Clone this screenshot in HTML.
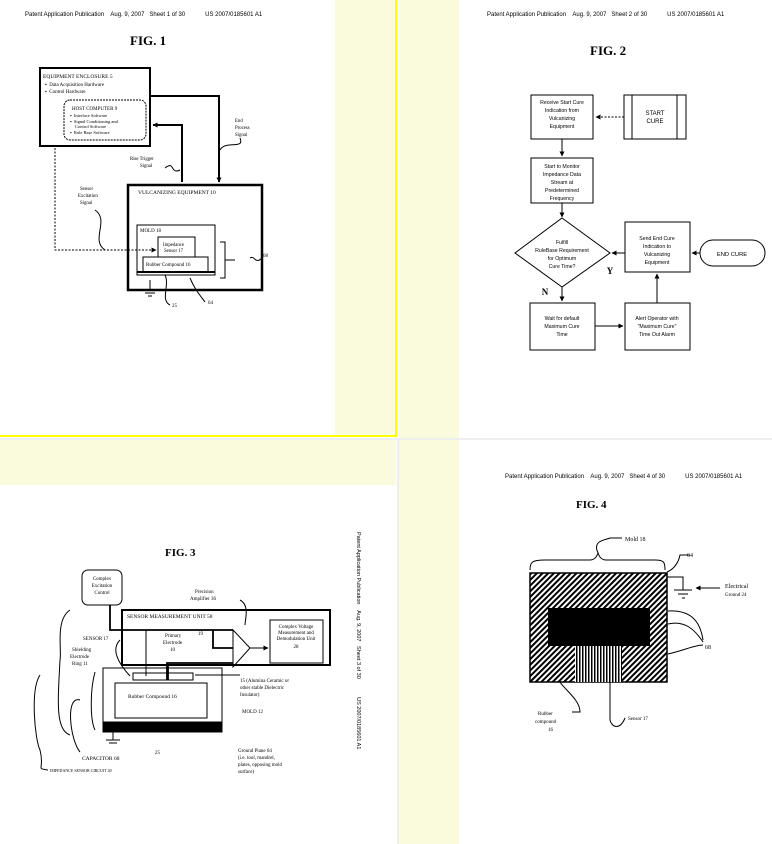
<!DOCTYPE html>
<html><head><meta charset="utf-8"><style>
html,body{margin:0;padding:0;width:772px;height:844px;overflow:hidden;background:#fff}
svg{display:block}
text{font-family:"Liberation Serif",serif;fill:#000;white-space:pre}
.s{font-family:"Liberation Sans",sans-serif}
.f2 text{font-family:"Liberation Sans",sans-serif}
</style></head><body>
<svg width="772" height="844" viewBox="0 0 772 844" xmlns="http://www.w3.org/2000/svg">
<defs>
<pattern id="h" width="4" height="4" patternUnits="userSpaceOnUse" patternTransform="rotate(45)">
<rect width="4" height="4" fill="#fff"/><rect width="2" height="4" fill="#000"/></pattern>
<pattern id="v" width="3" height="3" patternUnits="userSpaceOnUse">
<rect width="3" height="3" fill="#fff"/><rect width="1.5" height="3" fill="#000"/></pattern>
<marker id="a" markerWidth="5" markerHeight="5" refX="4.5" refY="2.5" orient="auto" markerUnits="userSpaceOnUse"><path d="M0,0L5,2.5L0,5z" fill="#000"/></marker>
</defs>
<rect x="335" y="0" width="61" height="435" fill="#fafadc"/>
<rect x="399" y="0" width="60" height="438" fill="#fafadc"/>
<rect x="0" y="440" width="396" height="45" fill="#fafadc"/>
<rect x="399" y="440" width="60" height="404" fill="#fafadc"/>
<rect x="395" y="0" width="2" height="437" fill="#ffff00"/>
<rect x="0" y="435" width="397" height="2" fill="#ffff00"/>
<rect x="0" y="438" width="772" height="2" fill="#eee"/>
<rect x="397" y="438" width="2" height="406" fill="#eee"/>

<!-- FIG 1 -->
<g fill="none" stroke="#000">
<text x="25" y="16" font-size="6" class="s" stroke="none">Patent Application Publication    Aug. 9, 2007   Sheet 1 of 30            US 2007/0185601 A1</text>
<text x="130" y="45" font-size="13" font-weight="bold" stroke="none">FIG. 1</text>
<rect x="40" y="68" width="110" height="78" stroke-width="2"/>
<rect x="64" y="100" width="82" height="40" rx="6" stroke-dasharray="2,1"/>
<text x="43" y="78" font-size="5.5" stroke="none">EQUIPMENT ENCLOSURE 5</text>
<text x="45" y="86" font-size="5" stroke="none">▪  Data Acquisition Hardware</text>
<text x="45" y="93" font-size="5" stroke="none">▪  Control Hardware</text>
<text x="72" y="110" font-size="5" stroke="none">HOST COMPUTER 9</text>
<text x="70" y="117" font-size="4.5" stroke="none">▪  Interface Software</text>
<text x="70" y="123" font-size="4.5" stroke="none">▪  Signal Conditioning and</text>
<text x="75" y="128" font-size="4.5" stroke="none">Control Software</text>
<text x="70" y="134" font-size="4.5" stroke="none">▪  Rule Base Software</text>
<rect x="128" y="185" width="134" height="105" stroke-width="2.5"/>
<text x="138" y="194" font-size="5.5" stroke="none">VULCANIZING EQUIPMENT 10</text>
<rect x="137" y="225" width="78" height="50"/>
<text x="140" y="232" font-size="5" stroke="none">MOLD 18</text>
<rect x="158" y="237" width="37" height="26"/>
<text x="163" y="246" font-size="4.8" stroke="none">Impedance</text>
<text x="164" y="252" font-size="4.8" stroke="none">Sensor 17</text>
<rect x="143" y="257" width="65" height="15" fill="#fff"/>
<text x="146" y="266" font-size="5" stroke="none">Rubber Compound 16</text>
<line x1="137" y1="272" x2="215" y2="272" stroke-width="2"/>
<path d="M150,96H219V182" stroke-width="2" marker-end="url(#a)"/>
<path d="M182,182V125H153" stroke-width="2" marker-end="url(#a)"/>
<path d="M55,148V250H156" stroke-dasharray="2,1.5" marker-end="url(#a)"/>
<path d="M150,280V290M142,290H158M145,293H155M148,296H152"/>
<text x="130" y="160" font-size="4.8" stroke="none">Rise Trigger</text>
<text x="140" y="167" font-size="4.8" stroke="none">Signal</text>
<text x="235" y="122" font-size="4.8" stroke="none">End</text>
<text x="235" y="129" font-size="4.8" stroke="none">Process</text>
<text x="235" y="136" font-size="4.8" stroke="none">Signal</text>
<text x="80" y="190" font-size="4.8" stroke="none">Sensor</text>
<text x="78" y="197" font-size="4.8" stroke="none">Excitation</text>
<text x="80" y="204" font-size="4.8" stroke="none">Signal</text>
<path d="M165,168C175,160 170,175 180,170M240,138C245,150 225,140 220,150M95,210C110,220 90,240 105,250"/>
<path d="M220,242H225V278H220M225,260H235"/>
<path d="M250,258C255,255 255,265 262,258"/>
<text x="263" y="257" font-size="5" stroke="none">68</text>
<path d="M165,275C170,285 160,300 170,305M190,278C195,290 200,295 205,302"/>
<text x="172" y="307" font-size="5" stroke="none">25</text>
<text x="208" y="304" font-size="5" stroke="none">64</text>
</g>

<!-- FIG 2 -->
<g fill="none" stroke="#000" class="f2">
<text x="487" y="16" font-size="6" class="s" stroke="none">Patent Application Publication    Aug. 9, 2007   Sheet 2 of 30            US 2007/0185601 A1</text>
<text x="590" y="55" font-size="13" font-weight="bold" stroke="none" style="font-family:'Liberation Serif',serif">FIG. 2</text>
<rect x="531" y="95" width="62" height="44"/>
<rect x="624" y="95" width="62" height="44"/><path d="M632,95V139M677,95V139"/>
<path d="M624,117H596" stroke-dasharray="2,1.5" marker-end="url(#a)"/>
<rect x="531" y="158" width="62" height="45"/>
<path d="M562,139V156" marker-end="url(#a)"/>
<path d="M562,203V217" marker-end="url(#a)"/>
<path d="M562,218L610,253L562,287L515,253Z"/>
<rect x="625" y="222" width="65" height="50"/>
<path d="M625,253H612" marker-end="url(#a)"/>
<rect x="700" y="240" width="65" height="26" rx="13"/>
<path d="M700,253H692" marker-end="url(#a)"/>
<rect x="530" y="303" width="65" height="47"/>
<path d="M562,287V301" marker-end="url(#a)"/>
<rect x="625" y="303" width="65" height="47"/>
<path d="M595,326H623" marker-end="url(#a)"/>
<path d="M657,303V274" marker-end="url(#a)"/>
<g stroke="none" font-size="5.2" text-anchor="middle">
<text x="562" y="104">Receive Start Cure</text><text x="562" y="112">Indication from</text><text x="562" y="120">Vulcanizing</text><text x="562" y="128">Equipment</text>
<text x="655" y="115" font-size="6">START</text><text x="655" y="123" font-size="6">CURE</text>
<text x="562" y="168">Start to Monitor</text><text x="562" y="176">Impedance Data</text><text x="562" y="184">Stream at</text><text x="562" y="192">Predetermined</text><text x="562" y="200">Frequency</text>
<text x="562" y="244">Fulfill</text><text x="562" y="252">RuleBase Requirement</text><text x="562" y="260">for Optimum</text><text x="562" y="268">Cure Time?</text>
<text x="657" y="240">Send End Cure</text><text x="657" y="248">Indication to</text><text x="657" y="256">Vulcanizing</text><text x="657" y="264">Equipment</text>
<text x="732" y="256" font-size="5.8">END CURE</text>
<text x="562" y="320">Wait for default</text><text x="562" y="328">Maximum Cure</text><text x="562" y="336">Time</text>
<text x="657" y="320">Alert Operator with</text><text x="657" y="328">"Maximum Cure"</text><text x="657" y="336">Time Out Alarm</text>
<text x="610" y="274" font-size="9" font-weight="bold" style="font-family:'Liberation Serif',serif">Y</text>
<text x="545" y="295" font-size="9" font-weight="bold" style="font-family:'Liberation Serif',serif">N</text>
</g>
</g>

<!-- FIG 3 -->
<g fill="none" stroke="#000">
<text x="165" y="556" font-size="11" font-weight="bold" stroke="none">FIG. 3</text>
<rect x="82" y="570" width="40" height="35" rx="6"/>
<text x="102" y="580" font-size="5" text-anchor="middle" stroke="none">Complex</text>
<text x="102" y="587" font-size="5" text-anchor="middle" stroke="none">Excitation</text>
<text x="102" y="594" font-size="5" text-anchor="middle" stroke="none">Control</text>
<rect x="122" y="610" width="208" height="55" stroke-width="2"/>
<text x="127" y="618" font-size="5.5" stroke="none">SENSOR MEASUREMENT UNIT 58</text>
<rect x="270" y="620" width="53" height="43"/>
<text x="296" y="628" font-size="5" text-anchor="middle" stroke="none">Complex Voltage</text>
<text x="296" y="634" font-size="5" text-anchor="middle" stroke="none">Measurement and</text>
<text x="296" y="640" font-size="5" text-anchor="middle" stroke="none">Demodulation Unit</text>
<text x="296" y="648" font-size="5" text-anchor="middle" stroke="none">28</text>
<path d="M110,605V630H233M213,630V648H233M168,666V680M233,663H167V680" stroke-width="1.8"/>
<path d="M233,630L250,648L233,667Z"/>
<path d="M250,648H268" marker-end="url(#a)"/>
<path d="M146,630V676"/>
<rect x="103" y="668" width="119" height="64"/>
<rect x="133" y="673" width="60" height="7"/>
<rect x="115" y="683" width="92" height="35"/>
<rect x="103" y="722" width="119" height="10" fill="#000"/>
<text x="128" y="698" font-size="5.5" stroke="none">Rubber Compound 16</text>
<path d="M113,732V740M106,740H120M109,743H117"/>
<text x="165" y="637" font-size="5" stroke="none">Primary</text>
<text x="163" y="644" font-size="5" stroke="none">Electrode</text>
<text x="170" y="651" font-size="5" stroke="none">10</text>
<text x="198" y="635" font-size="5" stroke="none">19</text>
<text x="195" y="593" font-size="5" stroke="none">Precision</text>
<text x="190" y="600" font-size="5" stroke="none">Amplifier 36</text>
<text x="83" y="640" font-size="5" stroke="none">SENSOR 17</text>
<text x="72" y="651" font-size="5" stroke="none">Shielding</text>
<text x="70" y="658" font-size="5" stroke="none">Electrode</text>
<text x="72" y="665" font-size="5" stroke="none">Ring 11</text>
<text x="240" y="682" font-size="5" stroke="none">15 (Alumina Ceramic or</text>
<text x="240" y="689" font-size="5" stroke="none">other stable Dielectric</text>
<text x="240" y="696" font-size="5" stroke="none">Insulator)</text>
<text x="242" y="713" font-size="5" stroke="none">MOLD 12</text>
<text x="238" y="752" font-size="5" stroke="none">Ground Plane 64</text>
<text x="238" y="759" font-size="5" stroke="none">(i.e. tool, mandrel,</text>
<text x="238" y="766" font-size="5" stroke="none">plates, opposing mold</text>
<text x="238" y="773" font-size="5" stroke="none">surface)</text>
<text x="155" y="754" font-size="5" stroke="none">25</text>
<text x="82" y="760" font-size="5.5" stroke="none">CAPACITOR 68</text>
<text x="50" y="772" font-size="4" stroke="none">IMPEDANCE SENSOR CIRCUIT 40</text>
<path d="M70,610C55,620 62,650 60,660C58,700 55,730 70,735M40,675C30,690 35,740 40,750C45,770 35,768 48,770M95,672C90,690 90,720 95,730M80,700C65,695 70,740 80,752"/>
<path d="M240,600C250,605 245,620 245,625M240,675H195M120,640C110,650 120,665 130,676"/>
<text x="0" y="0" font-size="5.5" class="s" stroke="none" transform="translate(357,532) rotate(90)">Patent Application Publication    Aug. 9, 2007   Sheet 3 of 30            US 2007/0185601 A1</text>
</g>

<!-- FIG 4 -->
<g fill="none" stroke="#000">
<text x="505" y="478" font-size="6" class="s" stroke="none">Patent Application Publication    Aug. 9, 2007   Sheet 4 of 30            US 2007/0185601 A1</text>
<text x="576" y="508" font-size="11" font-weight="bold" stroke="none">FIG. 4</text>
<path d="M530,570C530,562 532,560 545,560H590C595,560 597,556 598,553C599,556 601,560 606,560H655C664,560 665,562 665,570"/>
<path d="M598,553C592,540 606,540 610,538H622"/>
<text x="625" y="541" font-size="6" stroke="none">Mold 18</text>
<rect x="530" y="573" width="137" height="109" fill="url(#h)" stroke-width="1.5"/>
<rect x="548" y="608" width="102" height="38" fill="#000" stroke="none"/>
<rect x="575" y="646" width="47" height="36" fill="url(#v)" stroke="none"/>
<path d="M667,577H683V590M674,590H692M678,594H688M682,598H685"/>
<path d="M720,588H696" marker-end="url(#a)"/>
<text x="725" y="588" font-size="6" stroke="none">Electrical</text>
<text x="725" y="596" font-size="5" stroke="none">Ground 24</text>
<path d="M667,572C672,570 678,565 680,555H690"/>
<text x="687" y="557" font-size="6" stroke="none">64</text>
<path d="M668,611C690,610 700,620 703,640M668,624C685,620 695,630 703,642M668,654C685,650 695,645 703,645"/>
<text x="705" y="649" font-size="6" stroke="none">68</text>
<path d="M560,682C565,690 580,700 580,712H572"/>
<text x="538" y="715" font-size="5" stroke="none">Rubber</text>
<text x="535" y="723" font-size="5" stroke="none">compound</text>
<text x="548" y="731" font-size="5" stroke="none">16</text>
<path d="M610,682V720C612,728 620,730 625,718"/>
<text x="628" y="720" font-size="5" stroke="none">Sensor 17</text>
</g>
</svg>
</body></html>
